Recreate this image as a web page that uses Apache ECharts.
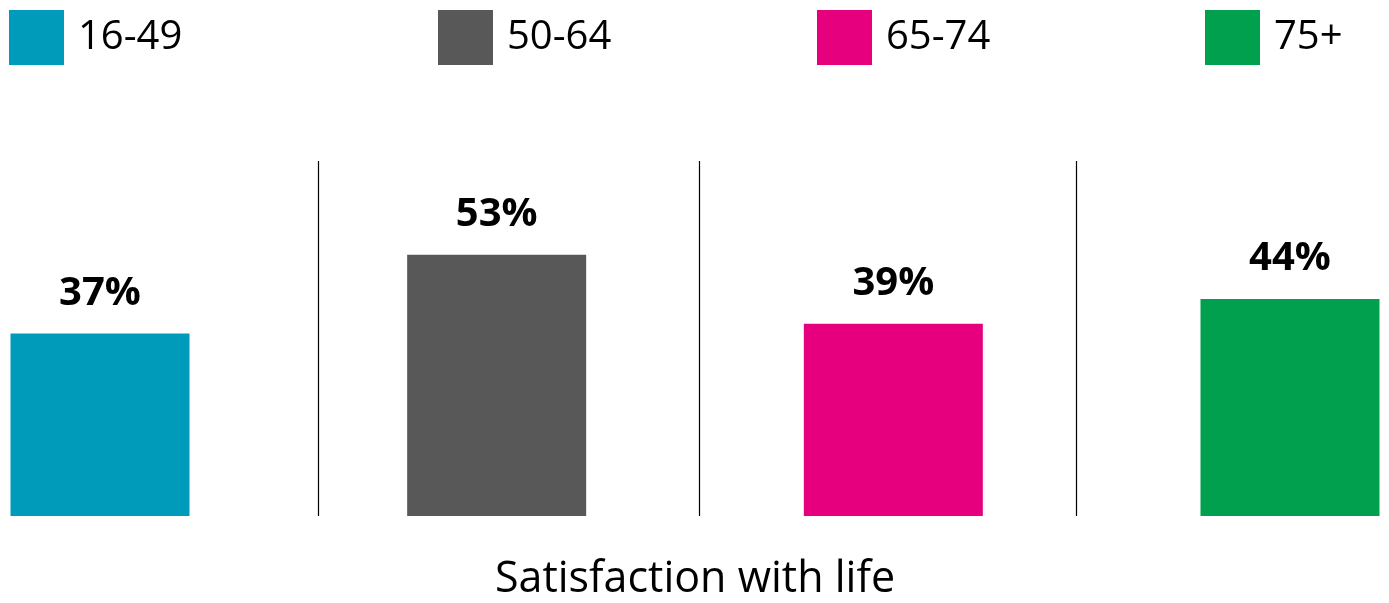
<!DOCTYPE html>
<html>
<head>
<meta charset="utf-8">
<script src="https://cdn.jsdelivr.net/npm/echarts@6/dist/echarts.min.js"></script>
<style>html,body{margin:0;padding:0;background:#fff}#c{width:1389px;height:603px}</style>
</head>
<body>
<div id="c"></div>
<script>
var categories = ['16-49', '50-64', '65-74', '75+'];
var values = [37, 53, 39, 44];
var colors = ['#009bbb', '#585858', '#e6007e', '#00a04f'];
var axisTitle = 'Satisfaction with life';
var dividerPositions = [0.55, 1.508, 2.46];
var legendLefts = [9, 438, 817, 1205];

var chart = echarts.init(document.getElementById('c'));
var fontFam = '"Open Sans", "Noto Sans", sans-serif';

var series = categories.map(function (name, i) {
  var d = categories.map(function (c, j) { return j === i ? values[i] : '-'; });
  return {
    name: name, type: 'bar', data: d, barWidth: 179, barGap: '-100%',
    itemStyle: { color: colors[i] },
    label: { show: true, position: 'top', distance: 20, formatter: '{c}%',
      color: '#000', fontWeight: 'bold', fontSize: 40, fontFamily: fontFam },
    animation: false
  };
});
series.push({
  type: 'line', xAxisIndex: 1, data: [], silent: true, animation: false,
  markLine: { symbol: 'none', silent: true, label: { show: false },
    lineStyle: { color: '#000', width: 1.2, type: 'solid' },
    data: dividerPositions.map(function (p) { return { xAxis: p }; }) }
});

var legends = categories.map(function (name, i) {
  return {
    data: [name], left: legendLefts[i], top: 10, padding: 0, itemWidth: 55, itemHeight: 55,
    itemGap: 0, icon: 'rect', selectedMode: false,
    textStyle: { fontSize: 40, color: '#000', fontFamily: fontFam, padding: [0, 0, 0, 9] }
  };
});

chart.setOption({
  animation: false,
  legend: legends,
  grid: { left: 100, right: 99, top: 161, bottom: 87, containLabel: false, outerBoundsMode: 'none' },
  xAxis: [{
    type: 'category', data: categories, boundaryGap: false,
    axisLine: { show: false }, axisTick: { show: false }, axisLabel: { show: false },
    name: axisTitle, nameLocation: 'middle', nameGap: 42,
    nameTextStyle: { fontSize: 43, color: '#000', fontFamily: fontFam }
  }, {
    type: 'value', min: 0, max: 3, show: false
  }],
  yAxis: { type: 'value', min: 0, max: 72, show: false, splitLine: { show: false } },
  series: series
});
</script>
</body>
</html>
